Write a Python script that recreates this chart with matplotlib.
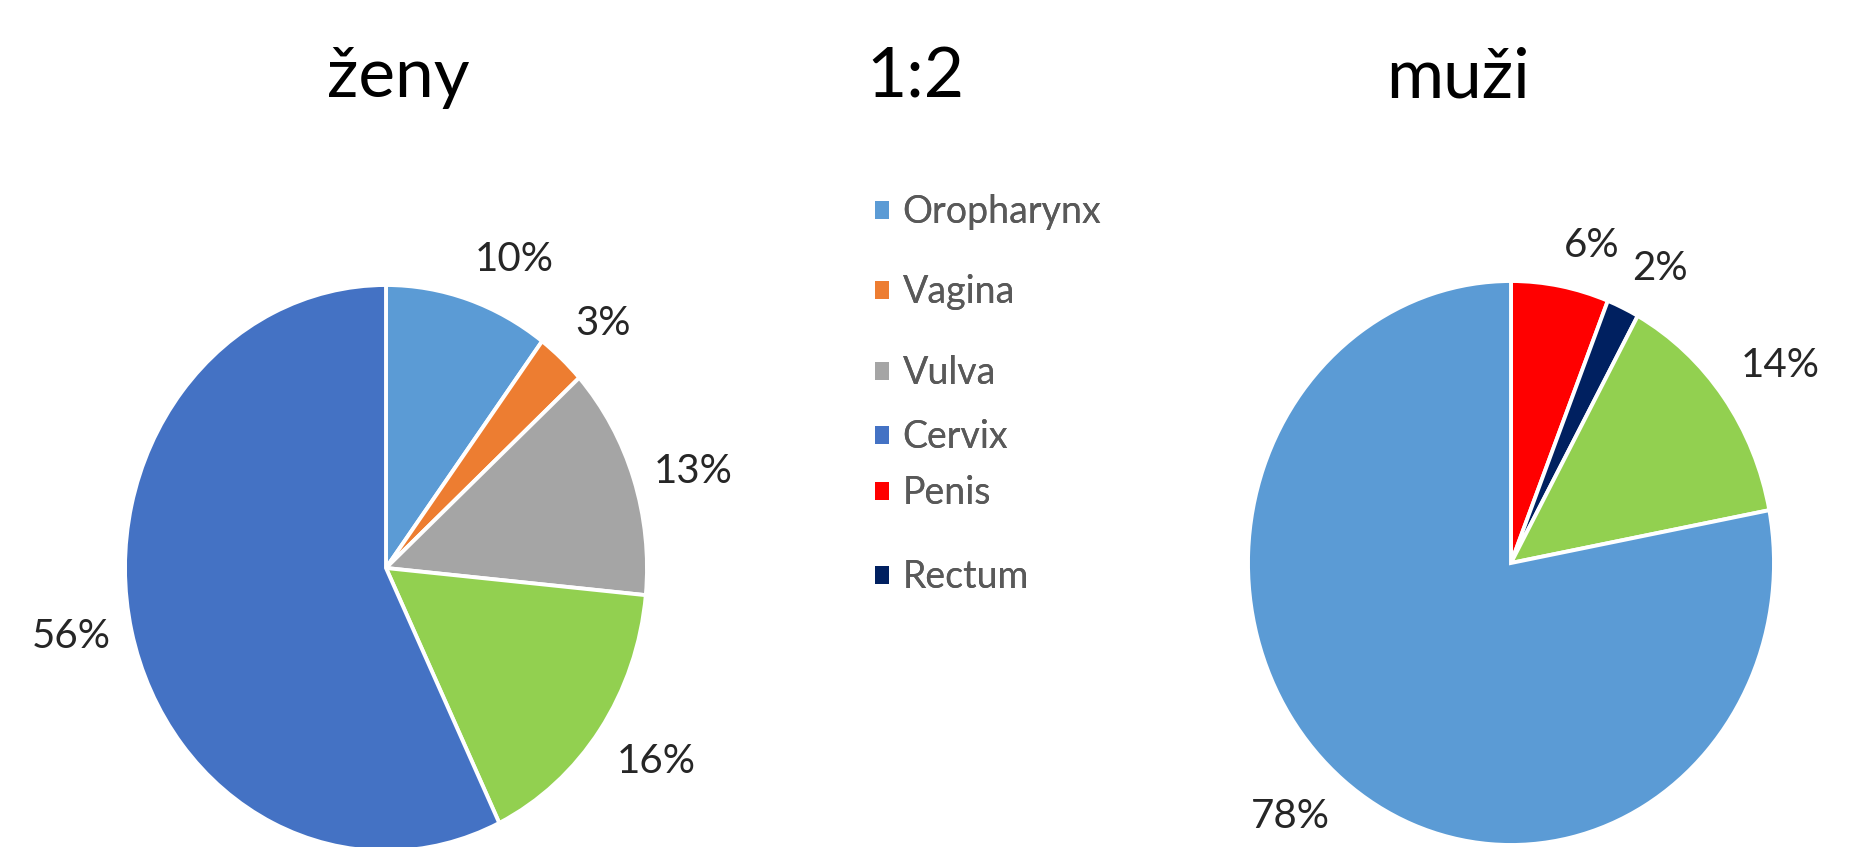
import matplotlib
matplotlib.use("Agg")
import matplotlib.pyplot as plt
from matplotlib.patches import Patch

plt.rcParams['font.family'] = ['Lato', 'DejaVu Sans']

# ---- data ----
titles = ["ženy", "1:2", "muži"]
women_labels = ["Oropharynx", "Vagina", "Vulva", "Anus", "Cervix"]
women_values = [10, 3, 13, 16, 56]
women_colors = ["#5B9BD5", "#ED7D31", "#A5A5A5", "#92D050", "#4472C4"]
men_labels = ["Penis", "Rectum", "Anus", "Oropharynx"]
men_values = [6, 2, 14, 78]
men_colors = ["#FF0000", "#002060", "#92D050", "#5B9BD5"]
legend_labels = ["Oropharynx", "Vagina", "Vulva", "Cervix", "Penis", "Rectum"]
legend_colors = ["#5B9BD5", "#ED7D31", "#A5A5A5", "#4472C4", "#FF0000", "#002060"]

W, H = 1864, 847
fig = plt.figure(figsize=(W / 100, H / 100), dpi=100)
fig.patch.set_facecolor("white")

# titles
title_x = [398, 915, 1458]
for t, x in zip(titles, title_x):
    fig.text(x / W, 1 - 97 / H, t, ha="center", va="baseline",
             fontsize=50, color="black")

L = 1.4


def make_pie(cx, cy, rx, ry, values, colors):
    left = (cx - L * rx) / W
    bottom = (H - cy - L * ry) / H
    ax = fig.add_axes([left, bottom, 2 * L * rx / W, 2 * L * ry / H])
    wedges, texts = ax.pie(
        values, colors=colors, startangle=90, counterclock=False,
        labels=[f"{v}%" for v in values], labeldistance=1.08,
        wedgeprops=dict(edgecolor="white", linewidth=2.8),
        textprops=dict(fontsize=29, color="#262626"))
    ax.set_aspect("auto")
    ax.set_xlim(-L, L)
    ax.set_ylim(-L, L)
    ax.axis("off")
    for t in texts:
        x, y = t.get_position()
        if y > 0.6:
            t.set_va("bottom")
        elif y < -0.6:
            t.set_va("top")
        else:
            t.set_va("center")
        t.set_clip_on(False)
    return ax


make_pie(386, 568, 261, 283, women_values, women_colors)
make_pie(1511, 563, 263, 282, men_values, men_colors)

# legend entries (irregularly spaced as in the reference)
legend_y = [212, 292, 373, 437, 493, 577]
for lab, col, y in zip(legend_labels, legend_colors, legend_y):
    leg = fig.legend(handles=[Patch(facecolor=col, edgecolor="none")],
                     labels=[lab], loc="center left",
                     bbox_to_anchor=(875 / W, 1 - y / H),
                     frameon=False, fontsize=27, borderpad=0,
                     borderaxespad=0, handlelength=0.36, handleheight=0.36,
                     handletextpad=0.38, labelcolor="#595959")
    fig.add_artist(leg)

fig.savefig("out.png", dpi=100, facecolor="white")
